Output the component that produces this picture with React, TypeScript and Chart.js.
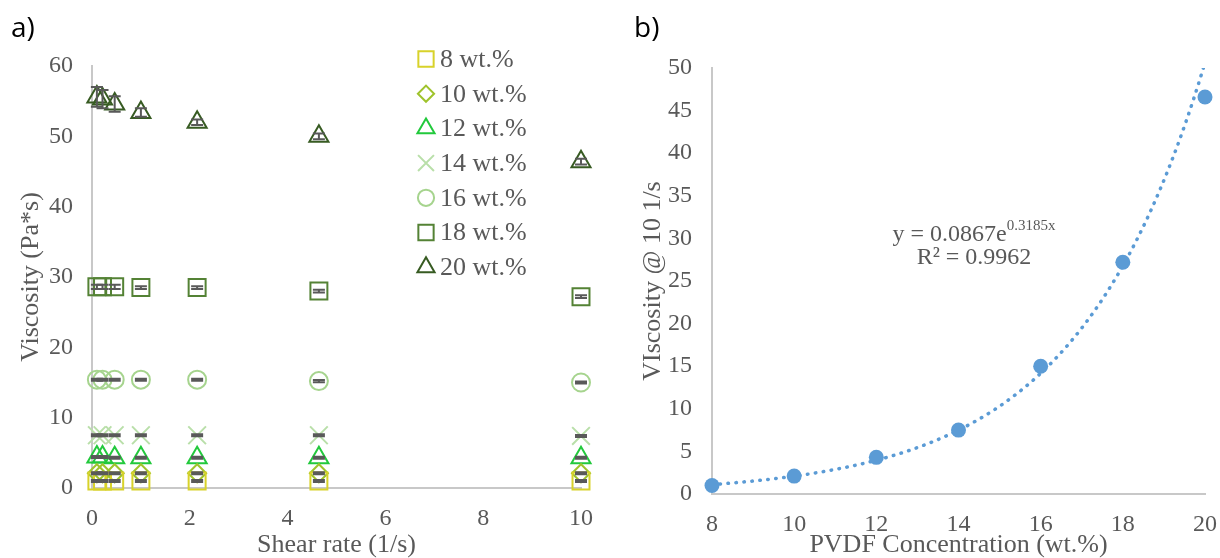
import React, { useEffect, useRef } from 'react';
import { Chart, registerables } from 'chart.js';
import { drawPoint } from 'chart.js/helpers';

Chart.register(...registerables);

// ---------- Data: panel a) ----------
const SHEAR_RATES = [0.1, 0.215, 0.464, 1, 2.15, 4.64, 10];
const SERIES_LABELS = ['8 wt.%', '10 wt.%', '12 wt.%', '14 wt.%', '16 wt.%', '18 wt.%', '20 wt.%'];
const V8 = [1.0, 1.0, 1.0, 1.0, 1.0, 1.0, 1.0];
const V10 = [2.1, 2.1, 2.1, 2.1, 2.1, 2.1, 2.1];
const V12 = [4.4, 4.4, 4.3, 4.3, 4.3, 4.3, 4.3];
const V14 = [7.5, 7.5, 7.5, 7.5, 7.5, 7.5, 7.4];
const V16 = [15.4, 15.4, 15.4, 15.4, 15.4, 15.2, 15.0];
const V18 = [28.6, 28.6, 28.6, 28.5, 28.5, 28.0, 27.2];
const V20 = [55.6, 55.3, 54.6, 53.4, 52.0, 50.0, 46.4];
const E8 = [0.15, 0.15, 0.15, 0.15, 0.15, 0.15, 0.15];
const E10 = [0.15, 0.15, 0.15, 0.15, 0.15, 0.15, 0.15];
const E12 = [0.15, 0.15, 0.15, 0.15, 0.15, 0.15, 0.15];
const E14 = [0.15, 0.15, 0.15, 0.15, 0.15, 0.15, 0.15];
const E16 = [0.15, 0.15, 0.15, 0.15, 0.15, 0.15, 0.15];
const E18 = [0.3, 0.3, 0.3, 0.2, 0.2, 0.2, 0.2];
const E20 = [1.4, 1.3, 1.1, 0.6, 0.4, 0.4, 0.4];
const X_TICKS_A = [0, 2, 4, 6, 8, 10];
const Y_TICKS_A = [0, 10, 20, 30, 40, 50, 60];

// ---------- Data: panel b) ----------
const CONCENTRATIONS = [8, 10, 12, 14, 16, 18, 20];
const VISC_AT_10 = [1.0, 2.1, 4.3, 7.5, 15.0, 27.2, 46.6];
const TREND_A = 0.0867; // from the displayed fit equation
const TREND_B = 0.3185;
const TREND_R2 = '0.9962';
const X_TICKS_B = [8, 10, 12, 14, 16, 18, 20];
const Y_TICKS_B = [0, 5, 10, 15, 20, 25, 30, 35, 40, 45, 50];

// ---------- Styles ----------
const SERIF = '"Liberation Serif", "Times New Roman", serif';
const TEXT = '#595959';
const AXIS = '#c8c8c8';
const TICK_SIZE = 24;
const LEGEND_SIZE = 26;
const TITLE_SIZE = 26;
const COLORS = ['#d8d22a', '#9fc32c', '#22c93c', '#b9dfa9', '#a6d48e', '#548235', '#375b22'];
const STYLES = ['rect', 'rectRot', 'triangle', 'crossRot', 'circle', 'rect', 'triangle'];
const RADII = [12, 9, 11, 12.5, 9, 12, 11];

const VALUES = [V8, V10, V12, V14, V16, V18, V20];
const ERRORS = [E8, E10, E12, E14, E16, E18, E20];

const errorBarPlugin = {
  id: 'errorBars',
  afterDatasetsDraw(chart: any) {
    const { ctx, scales } = chart;
    ctx.save();
    ctx.strokeStyle = TEXT;
    ctx.lineWidth = 2;
    VALUES.forEach((vals, i) => {
      vals.forEach((v, j) => {
        const e = ERRORS[i][j];
        const x = scales.x.getPixelForValue(SHEAR_RATES[j]);
        const yt = scales.y.getPixelForValue(v + e);
        const yb = scales.y.getPixelForValue(v - e);
        ctx.beginPath();
        ctx.moveTo(x, yt);
        ctx.lineTo(x, yb);
        ctx.moveTo(x - 6, yt);
        ctx.lineTo(x + 6, yt);
        ctx.moveTo(x - 6, yb);
        ctx.lineTo(x + 6, yb);
        ctx.stroke();
      });
    });
    ctx.restore();
  },
};

const insideLegendPlugin = {
  id: 'insideLegend',
  afterDraw(chart: any) {
    const { ctx } = chart;
    ctx.save();
    SERIES_LABELS.forEach((label, i) => {
      const y = 59 + i * 34.7;
      ctx.strokeStyle = COLORS[i];
      ctx.fillStyle = 'rgba(0,0,0,0)';
      ctx.lineWidth = 2;
      drawPoint(ctx, { pointStyle: STYLES[i] as any, radius: RADII[i] * 0.9, borderWidth: 2, rotation: 0 } as any, 426, y);
      ctx.fillStyle = TEXT;
      ctx.font = `${LEGEND_SIZE}px ${SERIF}`;
      ctx.textAlign = 'left';
      ctx.textBaseline = 'middle';
      ctx.fillText(label, 440, y + 1);
    });
    ctx.restore();
  },
};

const equationPlugin = {
  id: 'equation',
  afterDraw(chart: any) {
    const { ctx } = chart;
    ctx.save();
    ctx.fillStyle = TEXT;
    ctx.textBaseline = 'alphabetic';
    const main = `y = ${TREND_A}e`;
    const sup = `${TREND_B}x`;
    ctx.font = `24px ${SERIF}`;
    const wMain = ctx.measureText(main).width;
    ctx.font = `15px ${SERIF}`;
    const wSup = ctx.measureText(sup).width;
    const cx = 364;
    const x0 = cx - (wMain + wSup) / 2;
    ctx.textAlign = 'left';
    ctx.font = `24px ${SERIF}`;
    ctx.fillText(main, x0, 241);
    ctx.font = `15px ${SERIF}`;
    ctx.fillText(sup, x0 + wMain, 230);
    ctx.font = `24px ${SERIF}`;
    ctx.textAlign = 'center';
    ctx.fillText(`R² = ${TREND_R2}`, cx, 264);
    ctx.restore();
  },
};

function axisCommon(ticksList: number[], title: string, titlePad: any, size: number, isX: boolean, tickPad: number) {
  return {
    type: 'linear',
    min: ticksList[0],
    max: ticksList[ticksList.length - 1],
    afterBuildTicks(scale: any) {
      scale.ticks = ticksList.map((v) => ({ value: v }));
    },
    ticks: {
      font: { family: SERIF, size: TICK_SIZE },
      color: TEXT,
      padding: tickPad,
      maxRotation: 0,
      autoSkip: false,
    },
    grid: { display: false, drawTicks: false },
    border: { display: true, color: AXIS, width: 2 },
    title: {
      display: true,
      text: title,
      color: TEXT,
      font: { family: SERIF, size: TITLE_SIZE, lineHeight: 1 },
      padding: titlePad,
    },
    afterFit(scale: any) {
      if (isX) {
        scale.height = size;
        scale.paddingLeft = 0;
        scale.paddingRight = 0;
      } else {
        scale.width = size;
        scale.paddingTop = 0;
        scale.paddingBottom = 0;
      }
    },
  };
}

function ChartA() {
  const ref = useRef<HTMLCanvasElement>(null);
  useEffect(() => {
    const datasets = VALUES.map((vals, i) => ({
      label: SERIES_LABELS[i],
      data: vals.map((v, j) => ({ x: SHEAR_RATES[j], y: v })),
      showLine: false,
      pointStyle: STYLES[i],
      pointRadius: RADII[i],
      pointBorderWidth: 2,
      pointBorderColor: COLORS[i],
      pointBackgroundColor: 'rgba(0,0,0,0)',
      borderColor: COLORS[i],
      clip: false,
    }));
    const chart = new Chart(ref.current as HTMLCanvasElement, {
      type: 'scatter',
      data: { datasets } as any,
      options: {
        animation: false,
        responsive: false,
        events: [],
        layout: { padding: { left: 0, right: 29, top: 66, bottom: 0 } },
        plugins: { legend: { display: false }, tooltip: { enabled: false } },
        scales: {
          x: axisCommon(X_TICKS_A, 'Shear rate (1/s)', { top: 0, bottom: 0 }, 70, true, 16),
          y: axisCommon(Y_TICKS_A, 'Viscosity (Pa*s)', { top: 18, bottom: 0 }, 92, false, 19),
        },
      } as any,
      plugins: [errorBarPlugin, insideLegendPlugin],
    });
    return () => chart.destroy();
  }, []);
  return <canvas ref={ref} width={610} height={558} style={{ position: 'absolute', left: 0, top: 0 }} />;
}

function ChartB() {
  const ref = useRef<HTMLCanvasElement>(null);
  useEffect(() => {
    const trend: { x: number; y: number }[] = [];
    for (let k = 0; k <= 240; k++) {
      const x = 8 + k * 0.05;
      trend.push({ x, y: TREND_A * Math.exp(TREND_B * x) });
    }
    const chart = new Chart(ref.current as HTMLCanvasElement, {
      type: 'scatter',
      data: {
        datasets: [
          {
            label: 'Viscosity',
            data: CONCENTRATIONS.map((c, i) => ({ x: c, y: VISC_AT_10[i] })),
            showLine: false,
            pointStyle: 'circle',
            pointRadius: 7.5,
            pointBorderWidth: 0,
            pointBackgroundColor: '#5b9bd5',
            pointBorderColor: '#5b9bd5',
            clip: false,
            order: 0,
          },
          {
            label: 'Expon. fit',
            type: 'line',
            data: trend,
            showLine: true,
            pointRadius: 0,
            borderColor: '#5b9bd5',
            borderWidth: 3.5,
            borderDash: [0.5, 7.5],
            borderCapStyle: 'round',
            fill: false,
            tension: 0,
            order: 1,
          },
        ],
      } as any,
      options: {
        animation: false,
        responsive: false,
        events: [],
        layout: { padding: { left: 0, right: 15, top: 68, bottom: 0 } },
        plugins: { legend: { display: false }, tooltip: { enabled: false } },
        scales: {
          x: axisCommon(X_TICKS_B, 'PVDF Concentration (wt.%)', { top: 0, bottom: 0 }, 64, true, 16),
          y: axisCommon(Y_TICKS_B, 'VIscosity @ 10 1/s', { top: 30, bottom: 0 }, 102, false, 20),
        },
      } as any,
      plugins: [equationPlugin],
    });
    return () => chart.destroy();
  }, []);
  return <canvas ref={ref} width={610} height={558} style={{ position: 'absolute', left: 610, top: 0 }} />;
}

const panelLabel: React.CSSProperties = {
  position: 'absolute',
  top: 8,
  fontFamily: '"Open Sans", "Liberation Sans", sans-serif',
  fontSize: 28,
  lineHeight: '36px',
  color: '#000',
};

export default function App() {
  return (
    <div style={{ position: 'absolute', left: 0, top: 0, width: 1220, height: 558, background: '#fff', overflow: 'hidden' }}>
      <ChartA />
      <ChartB />
      <div style={{ ...panelLabel, left: 11 }}>a)</div>
      <div style={{ ...panelLabel, left: 634 }}>b)</div>
    </div>
  );
}
